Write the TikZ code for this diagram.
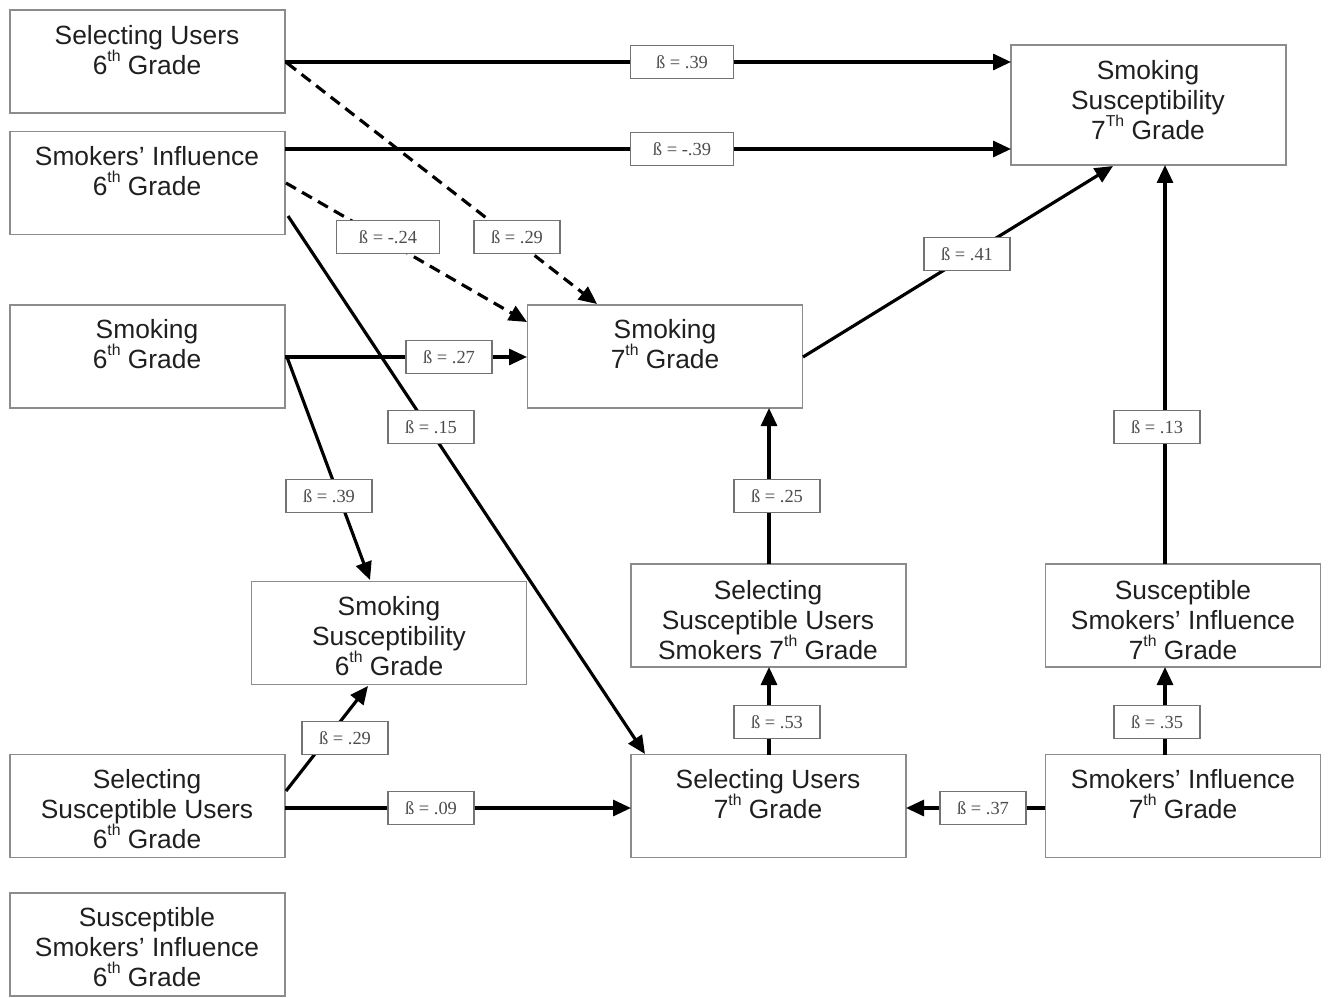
\documentclass[tikz,border=0pt]{standalone}
\usepackage{fontspec}
\setmainfont{Liberation Sans}
\newfontfamily\betafont{Liberation Serif}
\usetikzlibrary{arrows.meta}
\newcommand\supth[1]{\smash{\raisebox{0.5em}{\fontsize{9}{9}\selectfont #1}}}
\begin{document}
\begin{tikzpicture}[x=0.02cm,y=-0.02cm,
  box/.style={draw=black!45,line width=0.8pt,minimum width=5.5cm,minimum height=2.06cm,inner sep=0pt},
  txt/.style={align=center,text=black!88,font=\fontsize{15}{17.1}\selectfont,inner sep=0pt},
  arr/.style={line width=1.8pt,-{Triangle[length=0.36cm,width=0.32cm]}},
  dsh/.style={arr,dash pattern=on 6.5pt off 4pt},
  beta/.style={draw=black!55,fill=white,line width=0.7pt,minimum width=1.72cm,minimum height=0.66cm,inner sep=1pt,text=black!70,font=\betafont\fontsize{10.5}{12}\selectfont},
  betaw/.style={beta,minimum width=2.06cm}]
\useasboundingbox (0,0) rectangle (1331,997);
% boxes
\node[box] (su6) at (147.5,61.5) {};
\node[box] (si6) at (147.5,183) {};
\node[box] (s6) at (147.5,356.5) {};
\node[box] (ss6) at (389,633) {};
\node[box] (ssu6) at (147.5,806) {};
\node[box] (ssi6) at (147.5,944.5) {};
\node[box] (s7) at (665,356.5) {};
\node[box,minimum height=2.4cm] (ss7) at (1148.5,105) {};
\node[box] (ssu7) at (768.5,615.5) {};
\node[box] (ssi7) at (1183,615.5) {};
\node[box] (su7) at (768.5,806) {};
\node[box] (si7) at (1183,806) {};
% texts
\node[txt] (su6t) at (147,50) {Selecting Users\\6\supth{th} Grade};
\node[txt] (si6t) at (147,171) {Smokers’ Influence\\6\supth{th} Grade};
\node[txt] (s6t) at (147,344) {Smoking\\6\supth{th} Grade};
\node[txt] (ss6t) at (389,636) {Smoking\\Susceptibility\\6\supth{th} Grade};
\node[txt] (ssu6t) at (147,809) {Selecting\\Susceptible Users\\6\supth{th} Grade};
\node[txt] (ssi6t) at (147,947) {Susceptible\\Smokers’ Influence\\6\supth{th} Grade};
\node[txt] (s7t) at (665,344) {Smoking\\7\supth{th} Grade};
\node[txt] (ss7t) at (1148,100) {Smoking\\Susceptibility\\7\supth{Th} Grade};
\node[txt] (ssu7t) at (768,620) {Selecting\\Susceptible Users\\Smokers 7\supth{th} Grade};
\node[txt] (ssi7t) at (1183,620) {Susceptible\\Smokers’ Influence\\7\supth{th} Grade};
\node[txt] (su7t) at (768,794) {Selecting Users\\7\supth{th} Grade};
\node[txt] (si7t) at (1183,794) {Smokers’ Influence\\7\supth{th} Grade};
% connector anchor points
\coordinate (a1) at (285,62);
\coordinate (b1) at (1011,62);
\coordinate (a2) at (285,149);
\coordinate (b2) at (1011,149);
\coordinate (a3) at (287,63);
\coordinate (b3) at (597,304);
\coordinate (a4) at (286,183);
\coordinate (b4) at (527,322);
\coordinate (a5) at (288,216);
\coordinate (b5) at (645,754);
\coordinate (a6) at (285,357);
\coordinate (b6) at (527,357);
\coordinate (a7) at (287,357);
\coordinate (b7) at (370,580);
\coordinate (a8) at (803,357);
\coordinate (b8) at (1113,166);
\coordinate (a9) at (1165,564);
\coordinate (b9) at (1165,165);
\coordinate (a10) at (769,564);
\coordinate (b10) at (769,408);
\coordinate (a11) at (769,755);
\coordinate (b11) at (769,667);
\coordinate (a12) at (1165,755);
\coordinate (b12) at (1165,667);
\coordinate (a13) at (1045,808);
\coordinate (b13) at (906,808);
\coordinate (a14) at (285,808);
\coordinate (b14) at (631,808);
\coordinate (a15) at (286,791);
\coordinate (b15) at (368,686);
% connectors
\draw[arr] (a1) -- (b1);
\draw[arr] (a2) -- (b2);
\draw[dsh] (a3) -- (b3);
\draw[dsh] (a4) -- (b4);
\draw[arr] (a5) -- (b5);
\draw[arr] (a6) -- (b6);
\draw[arr] (a7) -- (b7);
\draw[arr] (a8) -- (b8);
\draw[arr] (a9) -- (b9);
\draw[arr] (a10) -- (b10);
\draw[arr] (a11) -- (b11);
\draw[arr] (a12) -- (b12);
\draw[arr] (a13) -- (b13);
\draw[arr] (a14) -- (b14);
\draw[arr] (a15) -- (b15);
% labels
\node[betaw] (l1) at (682,62) {ß = .39};
\node[betaw] (l2) at (682,149) {ß = -.39};
\node[betaw] (l3) at (388,237) {ß = -.24};
\node[beta] (l4) at (517,237) {ß = .29};
\node[beta] (l5) at (967,254) {ß = .41};
\node[beta] (l6) at (449,357) {ß = .27};
\node[beta] (l7) at (431,427) {ß = .15};
\node[beta] (l8) at (1157,427) {ß = .13};
\node[beta] (l9) at (329,496) {ß = .39};
\node[beta] (l10) at (777,496) {ß = .25};
\node[beta] (l11) at (345,738) {ß = .29};
\node[beta] (l12) at (777,722) {ß = .53};
\node[beta] (l13) at (1157,722) {ß = .35};
\node[beta] (l14) at (431,808) {ß = .09};
\node[beta] (l15) at (983,808) {ß = .37};
\end{tikzpicture}
\end{document}
